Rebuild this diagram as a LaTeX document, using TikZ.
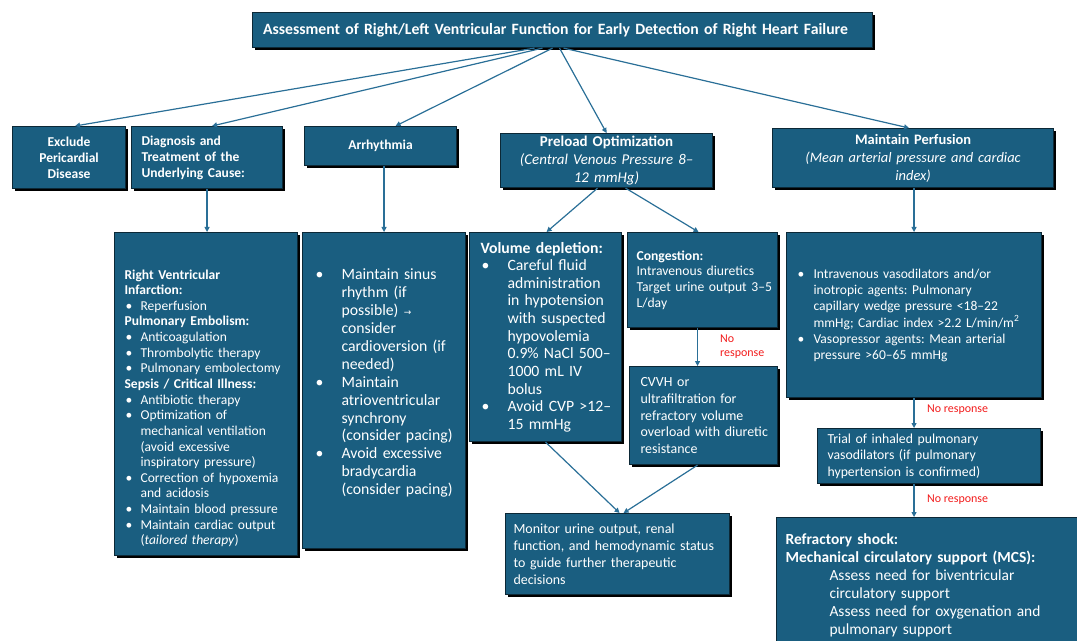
\documentclass[tikz,border=0pt]{standalone}
\usepackage{fontspec}
\setmainfont{Carlito}
\newfontfamily\djv{DejaVu Sans}
\usetikzlibrary{arrows.meta,shadows}

\definecolor{boxblue}{HTML}{1A5E80}
\definecolor{boxedge}{HTML}{0C2836}
\definecolor{linkblue}{HTML}{2A6F97}
\definecolor{noresp}{HTML}{F21C1C}

\newcommand{\fs}[2]{\fontsize{#1}{#2}\selectfont}
\newcommand{\lsk}[1]{\frenchspacing\leftskip=#1\rightskip=-14bp plus 1fil\parfillskip=0pt plus 1fil\relax}
\newcommand{\bitem}[3]{\par\hangindent=#2\hangafter=1\noindent\makebox[#2][l]{\hspace{#1}\textbullet}#3}

\tikzset{
  box/.style={draw=boxedge, line width=1.1bp, fill=boxblue, text=white,
    inner xsep=0pt, inner ysep=0pt, anchor=north west,
    drop shadow={shadow xshift=2bp, shadow yshift=-2bp, fill=black, opacity=1}},
  bx/.style n args={2}{box, minimum width=#1, text width=#1, minimum height=#2},
  link/.style={draw=linkblue, line width=1.2bp, -{Triangle[length=5bp,width=5bp]}},
  nr/.style={text=noresp, font=\fs{12}{14}, align=left, anchor=west, inner sep=0pt}
}

\begin{document}
\begin{tikzpicture}[x=1bp,y=-1bp]
\useasboundingbox (0,0) rectangle (1077,641);

% top row
\node[bx={620bp}{35bp}, align=center, font=\bfseries\fs{15.8}{18}] (title) at (252,12)
  {\hspace*{-14bp}Assessment of Right/Left Ventricular Function for Early Detection of Right Heart Failure};

\node[bx={113bp}{62bp}, align=center, font=\bfseries\fs{13.6}{16}] (excl) at (12,126)
  {Exclude\par Pericardial\par Disease};

\node[bx={151bp}{62bp}, align=left, font=\bfseries\fs{13.6}{16}] (diag) at (131,126)
  {\lsk{10bp}Diagnosis and\par Treatment of the\par Underlying Cause:\par};

\node[bx={152bp}{39bp}, align=center, font=\bfseries\fs{13.6}{16}] (arr) at (304,126)
  {Arrhythmia};

\node[bx={212bp}{54bp}, align=center, font=\fs{15}{18}] (pre) at (500,133)
  {\textbf{Preload Optimization}\par \textit{(Central Venous Pressure 8--}\par \textit{12 mmHg)}};

\node[bx={281bp}{59bp}, align=center, font=\fs{14.5}{18}] (perf) at (772,128)
  {\textbf{Maintain Perfusion}\par \textit{(Mean arterial pressure and cardiac}\par \textit{index)}};

% second row
\node[bx={183bp}{323bp}, align=left, font=\fs{13.6}{15.7}] (diagbig) at (114,232)
  {\lsk{10bp}\noindent\rule{0pt}{38bp}\textbf{Right Ventricular}\par\noindent\textbf{Infarction:}
   \bitem{1bp}{16bp}{Reperfusion}
   \par\noindent\textbf{Pulmonary Embolism:}
   \bitem{1bp}{16bp}{Anticoagulation}
   \bitem{1bp}{16bp}{Thrombolytic therapy}
   \bitem{1bp}{16bp}{Pulmonary embolectomy}
   \par\noindent\textbf{Sepsis / Critical Illness:}
   \bitem{1bp}{16bp}{Antibiotic therapy}
   \bitem{1bp}{16bp}{Optimization of\newline mechanical ventilation\newline (avoid excessive\newline inspiratory pressure)}
   \bitem{1bp}{16bp}{Correction of hypoxemia\newline and acidosis}
   \bitem{1bp}{16bp}{Maintain blood pressure}
   \bitem{1bp}{16bp}{Maintain cardiac output\newline (\textit{tailored therapy})}\par};

\node[bx={163bp}{316bp}, align=left, font=\fs{15.8}{18}] (arrbig) at (302,232)
  {\lsk{12bp}%
   \bitem{1bp}{27bp}{Maintain sinus\newline rhythm (if\newline possible) {\djv\fs{9}{18}→}\newline consider\newline cardioversion (if\newline needed)}
   \bitem{1bp}{27bp}{Maintain\newline atrioventricular\newline synchrony\newline (consider pacing)}
   \bitem{1bp}{27bp}{Avoid excessive\newline bradycardia\newline (consider pacing)}\par\vspace*{22bp}};

\node[bx={152bp}{209bp}, align=left, font=\fs{15.8}{17.7}] (vol) at (469,232)
  {\lsk{11bp}\noindent\textbf{Volume depletion:}
   \bitem{1bp}{27bp}{Careful fluid\newline administration\newline in hypotension\newline with suspected\newline hypovolemia\newline 0.9\% NaCl 500--\newline 1000 mL IV\newline bolus}
   \bitem{1bp}{27bp}{Avoid CVP >12--\newline 15 mmHg}\par};

\node[bx={150bp}{95bp}, align=left, font=\fs{13.7}{15.7}] (cong) at (627,232)
  {\lsk{9bp}\textbf{Congestion:}\par Intravenous diuretics\par Target urine output 3--5\par L/day\par};

\node[bx={148bp}{98bp}, align=left, font=\fs{14}{17}] (cvvh) at (629,366)
  {\lsk{11bp}CVVH or\par ultrafiltration for\par refractory volume\par overload with diuretic\par resistance\par};

\node[bx={224bp}{81bp}, align=left, font=\fs{14}{17}] (mon) at (505,513)
  {\lsk{8bp}Monitor urine output, renal\par function, and hemodynamic status\par to guide further therapeutic\par decisions\par};

\node[bx={255bp}{165bp}, align=left, font=\fs{13.6}{16.3}] (vaso) at (786,232)
  {\lsk{10bp}%
   \bitem{1bp}{17bp}{Intravenous vasodilators and/or\newline inotropic agents: Pulmonary\newline capillary wedge pressure <18--22\newline mmHg; Cardiac index >2.2 L/min/m\textsuperscript{2}}
   \bitem{1bp}{17bp}{Vasopressor agents: Mean arterial\newline pressure >60--65 mmHg}\par\vspace*{6bp}};

\node[bx={223bp}{55bp}, align=left, font=\fs{13.8}{16.5}] (trial) at (817,428)
  {\lsk{10bp}Trial of inhaled pulmonary\par vasodilators (if pulmonary\par hypertension is confirmed)\par};

\node[bx={310bp}{135bp}, align=left, font=\fs{15.5}{18}] (refr) at (776,517)
  {\lsk{9bp}\textbf{Refractory shock:}\par \textbf{Mechanical circulatory support (MCS):}\par
   {\lsk{53bp}Assess need for biventricular\par circulatory support\par Assess need for oxygenation and\par pulmonary support\par}};

% connectors from title
\draw[link] ([xshift=-28bp]title.south) -- ([xshift=6bp]excl.north);
\draw[link] ([xshift=-20bp]title.south) -- ([xshift=5bp]diag.north);
\draw[link] ([xshift=-10bp]title.south) -- ([xshift=15bp]arr.north);
\draw[link] ([xshift=-3bp]title.south) -- (pre.north);
\draw[link] ([xshift=1bp]title.south) -- ([xshift=-4bp]perf.north);

\draw[link] (diag.south) -- (diag.south |- diagbig.north);
\draw[link] (arrbig.north |- arr.south) -- (arrbig.north);
\draw[link] ([xshift=-9bp]pre.south) -- ([xshift=1bp]vol.north);
\draw[link] ([xshift=19bp]pre.south) -- ([xshift=-4bp]cong.north);
\draw[link] ([xshift=-5bp]cong.south) -- ([xshift=-5bp]cong.south |- cvvh.north);
\draw[link] (vol.south) -- ([xshift=2bp]mon.north);
\draw[link] ([xshift=-6bp]cvvh.south) -- ([xshift=6bp]mon.north);

\draw[link] (vaso.north |- perf.south) -- (vaso.north);
\draw[link] (vaso.south) -- (vaso.south |- trial.north);
\draw[link] (vaso.south |- trial.south) -- (vaso.south |- refr.north);

% no-response labels
\node[nr] (nr1) at (720,347) {No\\response};
\node[nr] (nr2) at (927,410) {No response};
\node[nr] (nr3) at (927,500) {No response};
\end{tikzpicture}
\end{document}
